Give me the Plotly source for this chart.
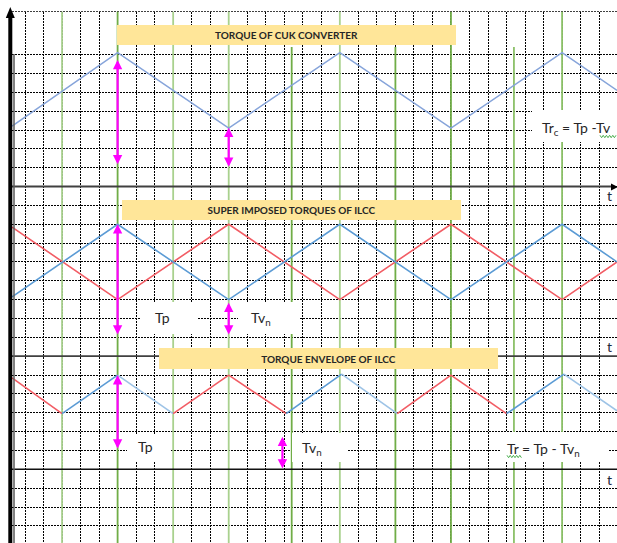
import math
import plotly.graph_objects as go

W, H = 617, 543
# layout calibration: pixel of t=0 / y=0 and pixels per grid unit
X0, XS = 25.0, 18.52
Y0, YS = 469.3, 18.85


def px2x(p):
    return (p - X0) / XS


def px2y(p):
    return (Y0 - p) / YS


# ---------------- data ----------------
# panel baselines (grid rows)
base_cuk, base_sup, base_env = 15, 6, 0

# Torque of CUK converter
cuk_t = [-0.7, 5, 11, 17, 23, 29, 31.97]
cuk_v = [3.2, 7.1, 3.1, 7.1, 3.1, 7.1, 5.1]

# Super imposed torques of ILCC
sup_t = [-0.7, 5, 11, 17, 23, 29, 31.97]
sup_blue = [3.15, 7.0, 3.0, 7.0, 3.0, 7.0, 5.0]
sup_red = [6.85, 3.0, 7.0, 3.0, 7.0, 3.0, 5.0]

# Torque envelope of ILCC
env_t = [-0.7, 2, 5, 8, 11, 14.1, 17.1, 20.1, 23, 26, 29.1, 31.97]
env_v = [4.85, 2.95, 5.0, 2.95, 5.0, 2.95, 5.05, 2.95, 5.0, 2.95, 5.05, 3.1]
env_seg = ["r", "b", "lb", "r", "r", "b", "lb", "r", "r", "b", "lb"]

# magenta double arrows (t, top, bottom) relative to panel baseline
cuk_arrow_t = [5, 11]
cuk_arrow_top = [6.72, 3.12]
cuk_arrow_bot = [1.1, 0.97]
sup_arrow_t = [5, 11]
sup_arrow_top = [7.0, 2.84]
sup_arrow_bot = [1.07, 1.07]
env_arrow_t = [5, 13.9]
env_arrow_top = [5.0, 1.73]
env_arrow_bot = [1.02, -0.04]

# grid cells (columns / rows); the top row sits a little higher
grid_cols = list(range(0, 32))
grid_rows = list(range(-3, 23)) + [24.27]

# green time markers
green_t = [2, 5, 8, 11, 14.4, 17, 20, 23, 26.4, 29]
green_top = [24.27, 24.27, 24.27, 24.27, 22.4, 24.27, 22.4, 24.27, 22.4, 24.27]
green_col = ["#a9d18e", "#70ad47", "#a9d18e", "#a9d18e", "#70ad47",
             "#a9d18e", "#70ad47", "#70ad47", "#8cc168", "#8cc168"]

# --------------- colours ---------------
C_CUK = "#86a4da"
C_BLUE = "#5b9bd5"
C_LBLUE = "#9dc3e6"
C_RED = "#f25c64"
C_MAG = "#ff00ff"
seg_col = {"r": C_RED, "b": C_BLUE, "lb": C_LBLUE}


# snap gridlines to pixel centres so the dotted lines stay crisp
def snap_x(v):
    return px2x(math.floor(X0 + XS * v) + 0.5)


def snap_y(v):
    return px2y(math.floor(Y0 - YS * v) + 0.5)


grid_t = [snap_x(v) for v in grid_cols]
grid_y = [snap_y(v) for v in grid_rows]

fig = go.Figure()

fig.add_trace(go.Scatter(x=cuk_t, y=[v + base_cuk for v in cuk_v], mode="lines",
                         line=dict(color=C_CUK, width=1.5), hoverinfo="skip"))
fig.add_trace(go.Scatter(x=sup_t, y=[v + base_sup for v in sup_red], mode="lines",
                         line=dict(color=C_RED, width=1.6), hoverinfo="skip"))
fig.add_trace(go.Scatter(x=sup_t, y=[v + base_sup for v in sup_blue], mode="lines",
                         line=dict(color=C_BLUE, width=1.6), hoverinfo="skip"))
for i, s in enumerate(env_seg):
    fig.add_trace(go.Scatter(x=env_t[i:i + 2], y=[v + base_env for v in env_v[i:i + 2]],
                             mode="lines", line=dict(color=seg_col[s], width=1.6),
                             hoverinfo="skip"))

shapes = []
# white strips hiding the grid outside the drawn area
shapes.append(dict(type="rect", xref="x", yref="y", layer="between",
                   x0=px2x(-2), x1=px2x(W + 2), y0=px2y(11.2), y1=px2y(-2),
                   fillcolor="white", line=dict(width=0)))
shapes.append(dict(type="rect", xref="x", yref="y", layer="between",
                   x0=px2x(-2), x1=px2x(9), y0=px2y(H + 2), y1=px2y(-2),
                   fillcolor="white", line=dict(width=0)))
# green markers
for t, top, c in zip(green_t, green_top, green_col):
    shapes.append(dict(type="line", xref="x", yref="y", layer="between",
                       x0=t, x1=t, y0=px2y(H + 2), y1=top,
                       line=dict(color=c, width=1.8)))
# white label backgrounds
for (a, b, c, d) in [(532, 619, 110, 142), (140, 197, 302, 334), (238, 300, 302, 334),
                     (127, 170, 435, 462), (292, 347, 433, 462), (500, 608, 432, 462)]:
    shapes.append(dict(type="rect", xref="x", yref="y", layer="between",
                       x0=px2x(a), x1=px2x(b), y0=px2y(d), y1=px2y(c),
                       fillcolor="white", line=dict(width=0)))
# t axes
shapes.append(dict(type="line", xref="x", yref="y", layer="between",
                   x0=px2x(10), x1=px2x(613), y0=base_cuk, y1=base_cuk,
                   line=dict(color="#404040", width=2)))
shapes.append(dict(type="path", xref="x", yref="y", layer="between",
                   path="M %f,%f L %f,%f L %f,%f Z" % (px2x(611), px2y(183.5), px2x(618), px2y(187),
                                                       px2x(611), px2y(190.5)),
                   fillcolor="black", line=dict(width=0)))
shapes.append(dict(type="line", xref="x", yref="y", layer="between",
                   x0=px2x(10), x1=px2x(W + 2), y0=base_sup, y1=base_sup,
                   line=dict(color="#404040", width=1.8)))
shapes.append(dict(type="line", xref="x", yref="y", layer="between",
                   x0=px2x(10), x1=px2x(W + 2), y0=base_env, y1=base_env,
                   line=dict(color="#111111", width=1.5)))
# vertical torque axis with arrow
shapes.append(dict(type="line", xref="x", yref="y", layer="above",
                   x0=px2x(14), x1=px2x(14), y0=px2y(H + 2), y1=px2y(54),
                   line=dict(color="#5a5a5a", width=1.5)))
shapes.append(dict(type="line", xref="x", yref="y", layer="above",
                   x0=px2x(10.3), x1=px2x(10.3), y0=px2y(H + 2), y1=px2y(15),
                   line=dict(color="black", width=4)))
shapes.append(dict(type="path", xref="x", yref="y", layer="above",
                   path="M %f,%f L %f,%f L %f,%f Z" % (px2x(5.8), px2y(18), px2x(10.3), px2y(7),
                                                       px2x(14.8), px2y(18)),
                   fillcolor="black", line=dict(width=0)))


# green spell-check squiggles
def squiggle(xa, xb, yc):
    pts = []
    x = xa
    k = 0
    while x <= xb:
        pts.append((px2x(x), px2y(yc + (1.2 if k % 2 else -1.2))))
        x += 1.6
        k += 1
    return "M " + " L ".join("%f,%f" % p for p in pts)


for (xa, xb, yc) in [(600, 617, 136.5), (507, 522, 456.5)]:
    shapes.append(dict(type="path", xref="x", yref="y", layer="above",
                       path=squiggle(xa, xb, yc), line=dict(color="#4caf50", width=1)))

annotations = []


def arrows(ts, tops, bots, base):
    for t, a, b in zip(ts, tops, bots):
        annotations.append(dict(x=t, y=a + base, ax=t, ay=b + base, xref="x", yref="y",
                                axref="x", ayref="y", text="", showarrow=True,
                                arrowhead=2, startarrowhead=2, arrowside="end+start",
                                arrowsize=0.85, startarrowsize=0.85, arrowwidth=2.2,
                                arrowcolor=C_MAG, standoff=0, startstandoff=0))


arrows(cuk_arrow_t, cuk_arrow_top, cuk_arrow_bot, base_cuk)
arrows(sup_arrow_t, sup_arrow_top, sup_arrow_bot, base_sup)
arrows(env_arrow_t, env_arrow_top, env_arrow_bot, base_env)

FONT = "Lato, Carlito, 'Open Sans', sans-serif"


def title_box(text, x_left, y_top, w, h):
    annotations.append(dict(xref="paper", yref="paper", x=(x_left + w / 2) / W,
                            y=1 - (y_top + h / 2) / H, xanchor="center", yanchor="middle",
                            text="<b>%s</b>" % text, showarrow=False, width=w, height=h,
                            bgcolor="#ffe699", borderpad=0, borderwidth=0, align="center",
                            valign="middle",
                            font=dict(family=FONT, size=10, color="#262626")))


title_box("TORQUE OF CUK CONVERTER", 117, 25, 339, 20)
title_box("SUPER IMPOSED TORQUES OF ILCC", 122, 200, 339, 19.5)
title_box("TORQUE ENVELOPE OF ILCC", 159, 347.5, 339, 21)


def label(text, x_left, y_mid, size=14):
    annotations.append(dict(xref="paper", yref="paper", x=x_left / W, y=1 - y_mid / H,
                            xanchor="left", yanchor="middle", text=text, showarrow=False,
                            borderpad=0, font=dict(family=FONT, size=size, color="#262626")))


label("Tr<sub>c</sub> = Tp -Tv", 541, 128)
label("Tp", 154, 317)
label("Tv<sub>n</sub>", 249.5, 318)
label("Tp", 136.5, 446)
label("Tv<sub>n</sub>", 300.5, 448)
label("Tr = Tp - Tv<sub>n</sub>", 506, 449)

for yy in [195, 346, 479]:
    annotations.append(dict(xref="paper", yref="paper", x=609 / W, y=1 - yy / H,
                            xanchor="center", yanchor="middle", text="t", showarrow=False,
                            font=dict(family=FONT, size=14, color="#1f2a3a")))

fig.update_layout(
    width=W, height=H,
    margin=dict(l=0, r=0, t=0, b=0),
    paper_bgcolor="white", plot_bgcolor="white",
    showlegend=False,
    shapes=shapes,
    annotations=annotations,
    xaxis=dict(range=[px2x(0), px2x(W)], tickvals=grid_t, showticklabels=False,
               showgrid=True, gridcolor="#000000", griddash="2px,1px", gridwidth=1,
               zeroline=False, showline=False, ticks="", fixedrange=True),
    yaxis=dict(range=[px2y(H), px2y(0)], tickvals=grid_y, showticklabels=False,
               showgrid=True, gridcolor="#000000", griddash="2px,1px", gridwidth=1,
               zeroline=False, showline=False, ticks="", fixedrange=True),
)

fig.write_html("out.html", config={"displayModeBar": False},
               post_script="document.body.style.margin='0';"
                           "document.body.style.overflow='hidden';")
